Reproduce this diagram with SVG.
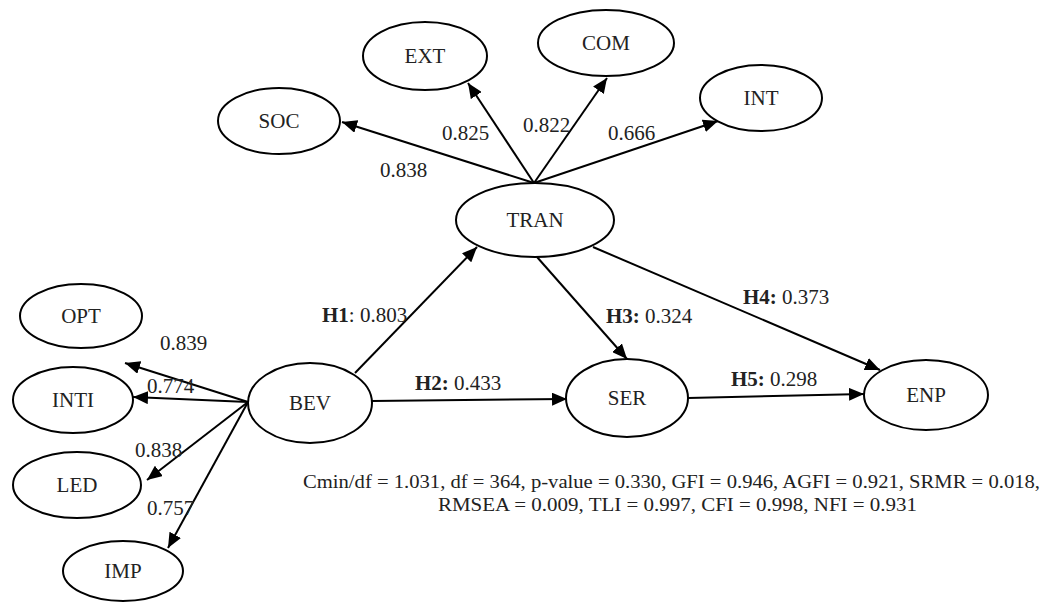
<svg xmlns="http://www.w3.org/2000/svg" width="1053" height="602" viewBox="0 0 1053 602">
<defs>
<marker id="ah" markerUnits="userSpaceOnUse" markerWidth="15" markerHeight="13" refX="15" refY="6.5" orient="auto">
<path d="M0,0 L15,6.5 L0,13 z" fill="#000"/>
</marker>
<style>
.n ellipse{fill:#fff;stroke:#000;stroke-width:2}
.n text{font-family:"Liberation Serif","Times New Roman",serif;font-size:21px;text-anchor:middle;fill:#222}
.c line{stroke:#000;stroke-width:2;marker-end:url(#ah)}
.l{font-family:"Liberation Serif","Times New Roman",serif;font-size:21px;fill:#222}
.s{font-family:"Liberation Serif","Times New Roman",serif;font-size:19px;fill:#222}
.b{font-weight:bold}
</style>
</defs>
<rect width="1053" height="602" fill="#fff"/>
<g id="connectors" class="c">
<line x1="534" y1="183" x2="342" y2="122"/>
<line x1="534" y1="183" x2="468" y2="83"/>
<line x1="534" y1="183" x2="607" y2="78"/>
<line x1="534" y1="183" x2="718" y2="121"/>
<line x1="248" y1="402" x2="125" y2="363"/>
<line x1="248" y1="402" x2="133" y2="397"/>
<line x1="248" y1="402" x2="147" y2="480"/>
<line x1="248" y1="402" x2="168" y2="548"/>
<line x1="355" y1="373" x2="477" y2="247"/>
<line x1="372" y1="401" x2="567" y2="399"/>
<line x1="537" y1="257" x2="627" y2="359"/>
<line x1="593" y1="247" x2="880" y2="370"/>
<line x1="688" y1="398" x2="864" y2="394"/>
</g>
<g id="SOC" class="n"><ellipse cx="279" cy="121" rx="61" ry="33"/><text x="279" y="128">SOC</text></g>
<g id="EXT" class="n"><ellipse cx="425" cy="56" rx="62" ry="34"/><text x="425" y="63">EXT</text></g>
<g id="COM" class="n"><ellipse cx="606" cy="43" rx="68" ry="33"/><text x="606" y="50">COM</text></g>
<g id="INT" class="n"><ellipse cx="761" cy="98" rx="61" ry="33"/><text x="761" y="105">INT</text></g>
<g id="TRAN" class="n"><ellipse cx="535" cy="220" rx="79" ry="37"/><text x="535" y="227">TRAN</text></g>
<g id="OPT" class="n"><ellipse cx="81" cy="316" rx="61" ry="32"/><text x="81" y="323">OPT</text></g>
<g id="INTI" class="n"><ellipse cx="73" cy="400" rx="60" ry="33"/><text x="73" y="407">INTI</text></g>
<g id="LED" class="n"><ellipse cx="77" cy="485" rx="64" ry="33"/><text x="77" y="492">LED</text></g>
<g id="IMP" class="n"><ellipse cx="123" cy="571" rx="60" ry="30"/><text x="123" y="578">IMP</text></g>
<g id="BEV" class="n"><ellipse cx="310" cy="403" rx="62" ry="40"/><text x="310" y="410">BEV</text></g>
<g id="SER" class="n"><ellipse cx="627" cy="398" rx="61" ry="39"/><text x="627" y="405">SER</text></g>
<g id="ENP" class="n"><ellipse cx="926" cy="395" rx="62" ry="35"/><text x="926" y="402">ENP</text></g>
<g id="labels">
<text class="l" x="380" y="177">0.838</text>
<text class="l" x="442" y="140">0.825</text>
<text class="l" x="523" y="132">0.822</text>
<text class="l" x="608" y="140">0.666</text>
<text class="l" x="160" y="350">0.839</text>
<text class="l" x="147" y="393">0.774</text>
<text class="l" x="135" y="457">0.838</text>
<text class="l" x="147" y="515">0.757</text>
<text class="l" x="322" y="322"><tspan class="b">H1</tspan>: 0.803</text>
<text class="l" x="415" y="390"><tspan class="b">H2:</tspan> 0.433</text>
<text class="l" x="606" y="323"><tspan class="b">H3:</tspan> 0.324</text>
<text class="l" x="743" y="304"><tspan class="b">H4:</tspan> 0.373</text>
<text class="l" x="731" y="386"><tspan class="b">H5:</tspan> 0.298</text>
<text class="s" x="303" y="488" textLength="737" lengthAdjust="spacingAndGlyphs">Cmin/df = 1.031, df = 364, p-value = 0.330, GFI = 0.946, AGFI = 0.921, SRMR = 0.018,</text>
<text class="s" x="438" y="511" textLength="479" lengthAdjust="spacingAndGlyphs">RMSEA = 0.009, TLI = 0.997, CFI = 0.998, NFI = 0.931</text>
</g>
</svg>
